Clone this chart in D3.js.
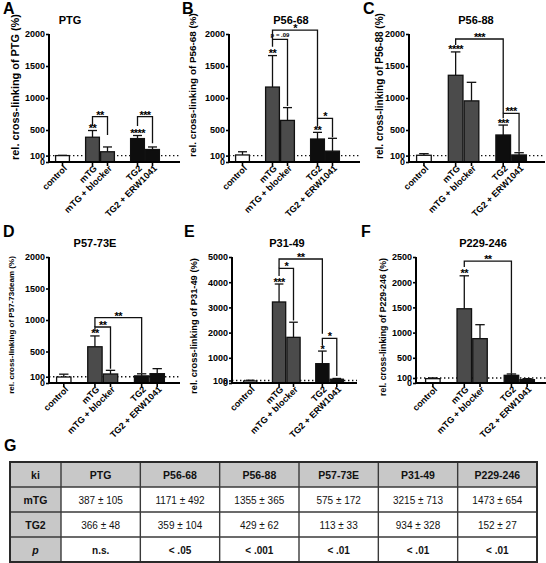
<!DOCTYPE html>
<html>
<head>
<meta charset="utf-8">
<script src="https://cdn.jsdelivr.net/npm/d3@7"></script>
<style>
  body { margin: 0; background: #fff; }
  svg { display: block; font-family: "Liberation Sans", Arial, sans-serif; }
</style>
</head>
<body>
<div id="chart"></div>
<script>
const W = 546, H = 563;

// groups on the x axis (spacer slots keep the gaps between the pairs)
const groups = ["control", "mTG", "mTG + blocker", "TG2", "TG2 + ERW1041"];
const slots = ["control", "gap1", "mTG", "mTG + blocker", "gap2", "TG2", "TG2 + ERW1041"];
const fills = ["#ffffff", "#4b4b4b", "#4b4b4b", "#0e0e0e", "#0e0e0e"];

const titles = ["PTG", "P56-68", "P56-88", "P57-73E", "P31-49", "P229-246"];
const yTitles = [
  "rel. cross-linking of PTG (%)",
  "rel. cross-linking of P56-68 (%)",
  "rel. cross-linking of P56-88 (%)",
  "rel. cross-linking of P57-73deam (%)",
  "rel. cross-linking of P31-49 (%)",
  "rel. cross-linking of P229-246 (%)"
];
const yMax = [2000, 2000, 2000, 2000, 5000, 2500];
const yTicks = [
  [0, 100, 500, 1000, 1500, 2000],
  [0, 100, 500, 1000, 1500, 2000],
  [0, 100, 500, 1000, 1500, 2000],
  [0, 100, 500, 1000, 1500, 2000],
  [0, 100, 1000, 2000, 3000, 4000, 5000],
  [0, 100, 500, 1000, 1500, 2000, 2500]
];

// mean and error (upper bar only) per group
const means = [
  [100, 387, 160, 366, 195],
  [110, 1171, 650, 359, 170],
  [105, 1355, 955, 422, 110],
  [95, 575, 143, 113, 148],
  [80, 3215, 1812, 767, 150],
  [86, 1473, 880, 152, 66]
];
const errs = [
  [4, 105, 75, 48, 40],
  [50, 492, 200, 104, 200],
  [25, 365, 290, 155, 35],
  [45, 172, 58, 33, 80],
  [30, 713, 600, 500, 30],
  [15, 654, 277, 27, 20]
];
// significance vs control, written over the bars
const stars = [
  ["", "**", "", "****", ""],
  ["", "**", "", "**", ""],
  ["", "****", "", "***", ""],
  ["", "**", "", "", ""],
  ["", "***", "", "*", ""],
  ["", "**", "", "", ""]
];
// comparisons: [group a, group b, bracket level, left leg end, right leg end, label]
const comparisons = [
  [[1, 2, 708, 562, 422, "**"], [3, 4, 708, 562, 292, "***"]],
  [[1, 2, 1917, 1802, 875, "p = .09"], [1, 3, 2062, 1917, 682, "*"], [3, 4, 682, 552, 385, "*"]],
  [[1, 3, 1922, 1828, 760, "***"], [3, 4, 760, 682, 161, "***"]],
  [[1, 2, 889, 820, 228, "**"], [1, 3, 1037, 889, 159, "**"]],
  [[1, 2, 4550, 4250, 2480, "*"], [1, 3, 4921, 4550, 1950, "**"], [3, 4, 1770, 1500, 280, "*"]],
  [[1, 3, 2420, 2300, 185, "**"]]
];

// table G
const tableCols = ["PTG", "P56-68", "P56-88", "P57-73E", "P31-49", "P229-246"];
const kiMtg = [387, 1171, 1355, 575, 3215, 1473];
const kiMtgSd = [105, 492, 365, 172, 713, 654];
const kiTg2 = [366, 359, 429, 113, 934, 152];
const kiTg2Sd = [48, 104, 62, 33, 328, 27];
const pText = ["n.s.", "< .05", "< .001", "< .01", "< .01", "< .01"];

// panel placement
const panels = [
  { letter: "A", lx: 3,   top: 34,  bottom: 162, axisX: 49,  r0: 55,  r1: 160, xEnd: 180, titleX: 70,  labX: 19,  labCy: 87,  labLen: 146 },
  { letter: "B", lx: 182, top: 34,  bottom: 162, axisX: 229, r0: 235, r1: 340, xEnd: 360, titleX: 291, labX: 196, labCy: 85,  labLen: 144 },
  { letter: "C", lx: 363, top: 34,  bottom: 162, axisX: 409, r0: 416, r1: 527, xEnd: 545, titleX: 476, labX: 383, labCy: 86,  labLen: 146 },
  { letter: "D", lx: 3,   top: 257, bottom: 383, axisX: 49,  r0: 56,  r1: 165, xEnd: 180, titleX: 95,  labX: 14,  labCy: 325, labLen: 138 },
  { letter: "E", lx: 184, top: 257, bottom: 383, axisX: 232, r0: 243, r1: 344, xEnd: 357, titleX: 287, labX: 197, labCy: 326, labLen: 136 },
  { letter: "F", lx: 361, top: 257, bottom: 383, axisX: 416, r0: 425, r1: 535, xEnd: 546, titleX: 483, labX: 386, labCy: 327, labLen: 138 }
];

const svg = d3.select("#chart").append("svg")
  .attr("width", W)
  .attr("height", H);

panels.forEach((p, i) => {
  const g = svg.append("g");

  const x = d3.scaleBand().domain(slots).range([p.r0, p.r1]).padding(0);
  const y = d3.scaleLinear().domain([0, yMax[i]]).range([p.bottom, p.top]);
  const bw = x.bandwidth();

  // letter and title
  g.append("text").attr("x", p.lx).attr("y", p.top - 20)
    .attr("font-size", 16).attr("font-weight", "bold").text(p.letter);
  g.append("text").attr("x", p.titleX).attr("y", p.top - 10)
    .attr("text-anchor", "middle").attr("font-size", 11).attr("font-weight", "bold")
    .text(titles[i]);

  // y label, sized to fill its length
  const lab = g.append("text")
    .attr("transform", `translate(${p.labX},${p.labCy}) rotate(-90)`)
    .attr("text-anchor", "middle").attr("font-weight", "bold").attr("font-size", 10)
    .text(yTitles[i]);
  const len = lab.node().getComputedTextLength();
  lab.attr("font-size", 10 * p.labLen / len);

  // dotted 100 % line
  g.append("line")
    .attr("x1", p.axisX).attr("x2", p.xEnd)
    .attr("y1", y(100)).attr("y2", y(100))
    .attr("stroke", "#111").attr("stroke-width", 1.4)
    .attr("stroke-dasharray", "1.4,2.6");

  // error bars
  const eb = g.append("g").attr("stroke", "#111").attr("stroke-width", 1.3);
  groups.forEach((grp, k) => {
    const cx = x(grp) + bw / 2;
    const yt = y(means[i][k] + errs[i][k]);
    eb.append("line").attr("x1", cx).attr("x2", cx).attr("y1", y(means[i][k])).attr("y2", yt);
    eb.append("line").attr("x1", cx - bw * 0.3).attr("x2", cx + bw * 0.3).attr("y1", yt).attr("y2", yt);
  });

  // bars
  g.append("g").selectAll("rect")
    .data(groups)
    .enter()
    .append("rect")
    .attr("x", d => x(d) + 0.6)
    .attr("width", bw - 1.2)
    .attr("y", (d, k) => y(means[i][k]))
    .attr("height", (d, k) => p.bottom - y(means[i][k]))
    .attr("fill", (d, k) => fills[k])
    .attr("stroke", "#111")
    .attr("stroke-width", 1.3);

  // stars over bars
  groups.forEach((grp, k) => {
    if (!stars[i][k]) return;
    g.append("text")
      .attr("x", x(grp) + bw / 2)
      .attr("y", y(means[i][k] + errs[i][k]) + 1.5)
      .attr("text-anchor", "middle").attr("font-size", 11).attr("font-weight", "bold")
      .attr("letter-spacing", -0.6)
      .text(stars[i][k]);
  });

  // comparison brackets
  comparisons[i].forEach(c => {
    const xa = x(groups[c[0]]) + bw / 2;
    const xb = x(groups[c[1]]) + bw / 2;
    g.append("path")
      .attr("d", `M${xa},${y(c[3])}V${y(c[2])}H${xb}V${y(c[4])}`)
      .attr("fill", "none").attr("stroke", "#111").attr("stroke-width", 1.3);
    const small = c[5].startsWith("p");
    g.append("text")
      .attr("x", (xa + xb) / 2)
      .attr("y", y(c[2]) + (small ? -2 : 2))
      .attr("text-anchor", "middle")
      .attr("font-size", small ? 6 : 11).attr("font-weight", "bold")
      .attr("letter-spacing", small ? 0 : -0.6)
      .text(c[5]);
  });

  // y axis
  const yAxis = g.append("g")
    .attr("transform", `translate(${p.axisX},0)`)
    .call(d3.axisLeft(y).tickValues(yTicks[i]).tickSize(3).tickPadding(1).tickFormat(d3.format("d")));
  yAxis.select(".domain").attr("stroke", "#000").attr("stroke-width", 2).attr("d", `M0,${p.bottom}V${p.top}`);
  yAxis.selectAll(".tick line").attr("stroke", "#000").attr("stroke-width", 1.6);
  yAxis.selectAll(".tick text")
    .attr("font-family", null).attr("font-size", 9).attr("font-weight", "bold").attr("fill", "#000");

  // x axis
  const xAxis = g.append("g")
    .attr("transform", `translate(0,${p.bottom})`)
    .call(d3.axisBottom(x).tickValues(groups).tickSize(4).tickFormat(""));
  xAxis.select(".domain").attr("stroke", "#000").attr("stroke-width", 2).attr("d", `M${p.axisX - 1},0H${p.xEnd}`);
  xAxis.selectAll(".tick line").attr("stroke", "#000").attr("stroke-width", 1.6);

  // rotated group labels
  g.append("g").selectAll("text")
    .data(groups)
    .enter()
    .append("text")
    .attr("transform", d => `translate(${x(d) + bw / 2 + 5},${p.bottom + 7}) rotate(-45)`)
    .attr("text-anchor", "end")
    .attr("font-size", 9).attr("font-weight", "bold")
    .text(d => d);
});

// ---- table G ----
svg.append("text").attr("x", 4).attr("y", 451)
  .attr("font-size", 16).attr("font-weight", "bold").text("G");

const tTop = 462, rowH = 25, kiLeft = 10, kiRight = 61, tRight = 537;
const colX = d3.scaleBand().domain(tableCols).range([kiRight, tRight]);
const rowY = d3.scaleBand().domain(["head", "mTG", "TG2", "p"]).range([tTop, tTop + rowH * 4]);
const tbl = svg.append("g");

// gray header row and first column
tbl.append("rect").attr("x", kiLeft).attr("y", tTop).attr("width", tRight - kiLeft).attr("height", rowH).attr("fill", "#c8c8c8");
tbl.append("rect").attr("x", kiLeft).attr("y", tTop).attr("width", kiRight - kiLeft).attr("height", rowH * 4).attr("fill", "#c8c8c8");

// grid lines
const grid = tbl.append("g").attr("stroke", "#3a3a3a").attr("stroke-width", 1.4);
["mTG", "TG2", "p"].forEach(r => {
  grid.append("line").attr("x1", kiLeft).attr("x2", tRight).attr("y1", rowY(r)).attr("y2", rowY(r));
});
tableCols.forEach(c => {
  grid.append("line").attr("x1", colX(c)).attr("x2", colX(c)).attr("y1", tTop).attr("y2", tTop + rowH * 4);
});
tbl.append("rect").attr("x", kiLeft).attr("y", tTop).attr("width", tRight - kiLeft).attr("height", rowH * 4)
  .attr("fill", "none").attr("stroke", "#2a2a2a").attr("stroke-width", 2);

const cellText = (cx, r, txt, bold, italic, size) => {
  tbl.append("text")
    .attr("x", cx).attr("y", rowY(r) + rowH / 2 + 4)
    .attr("text-anchor", "middle")
    .attr("font-size", size)
    .attr("font-weight", bold ? "bold" : "normal")
    .attr("font-style", italic ? "italic" : "normal")
    .attr("fill", "#111")
    .text(txt);
};
const kiCx = (kiLeft + kiRight) / 2;
cellText(kiCx, "head", "ki", true, false, 10.5);
cellText(kiCx, "mTG", "mTG", true, false, 10.5);
cellText(kiCx, "TG2", "TG2", true, false, 10.5);
cellText(kiCx, "p", "p", true, true, 10.5);
tableCols.forEach((c, j) => {
  const cx = colX(c) + colX.bandwidth() / 2;
  cellText(cx, "head", c, true, false, 10.5);
  cellText(cx, "mTG", `${kiMtg[j]} ± ${kiMtgSd[j]}`, false, false, 10);
  cellText(cx, "TG2", `${kiTg2[j]} ± ${kiTg2Sd[j]}`, false, false, 10);
  cellText(cx, "p", pText[j], true, false, 10);
});
</script>
</body>
</html>
